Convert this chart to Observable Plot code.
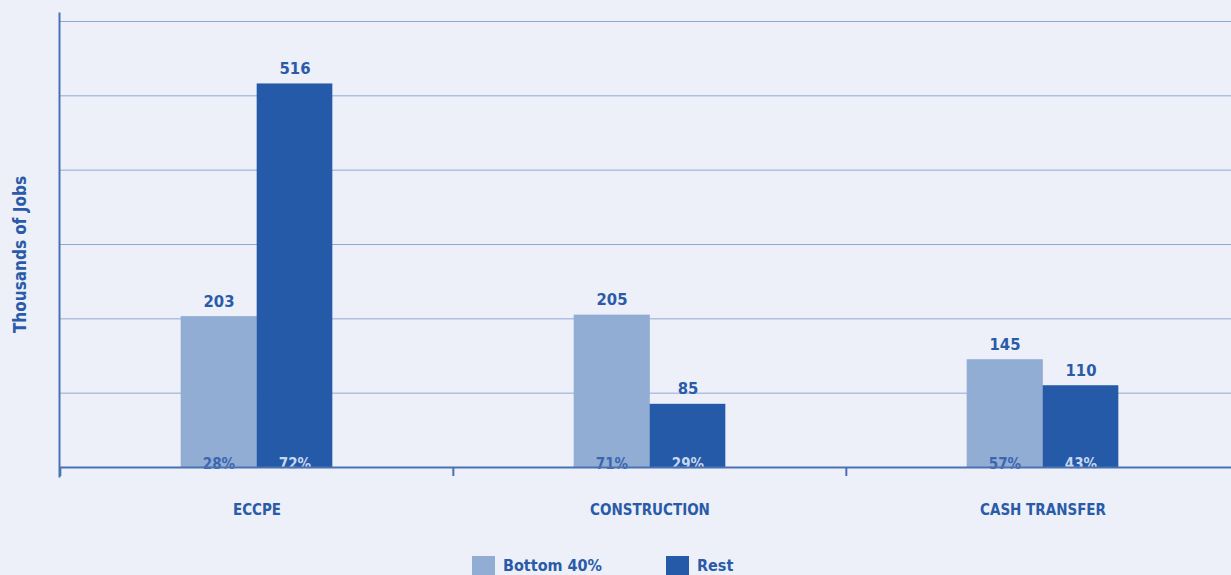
<!DOCTYPE html>
<html>
<head>
<meta charset="utf-8">
<script src="https://cdn.jsdelivr.net/npm/d3@7"></script>
<script src="https://cdn.jsdelivr.net/npm/@observablehq/plot@0.6"></script>
<style>
  html, body { margin: 0; padding: 0; background: #EDF0F8; overflow: hidden; }
  body { font-family: "DejaVu Sans Condensed", "DejaVu Sans", sans-serif; }
  #chart svg { max-width: none !important; height: 540px !important; width: 1239px !important; display: block; }
  #legend { display: flex; align-items: flex-start; padding-left: 472px; margin-top: 16px; color: #2A5BA8; font-weight: bold; font-size: 16px; }
  .item { display: flex; align-items: flex-start; margin-right: 64px; }
  .sw { width: 23px; height: 22px; margin-right: 8px; }
  .lbl { line-height: 20px; margin-top: 0px; }
</style>
</head>
<body>
<div id="chart"></div>
<div id="legend"></div>
<script>
const categories = ["ECCPE", "CONSTRUCTION", "CASH TRANSFER"];
const groups = ["Bottom 40%", "Rest"];
const bottom40 = [203, 205, 145];
const rest = [516, 85, 110];
const bottomShare = ["28%", "71%", "57%"];
const restShare = ["72%", "29%", "43%"];
const yTicks = [0, 100, 200, 300, 400, 500, 600];
const yTitle = "Thousands of Jobs";

const colors = { "Bottom 40%": "#92ADD4", "Rest": "#245AA8" };
const textDark = "#2A5BA8";

const data = [];
categories.forEach((c, i) => {
  data.push({ category: c, group: groups[0], value: bottom40[i], share: bottomShare[i] });
  data.push({ category: c, group: groups[1], value: rest[i], share: restShare[i] });
});
const dBottom = data.filter(d => d.group === groups[0]);
const dRest = data.filter(d => d.group === groups[1]);

const W = 1239, ML = 59, MR = 0;
const bw = (W - ML - MR) / categories.length;
const barW = 76;
const font = "'DejaVu Sans Condensed', 'DejaVu Sans', sans-serif";

const chart = Plot.plot({
  width: W,
  height: 540,
  marginLeft: ML,
  marginRight: MR,
  marginTop: 21,
  marginBottom: 73,
  style: { background: "#EDF0F8", fontFamily: font },
  x: { domain: categories, padding: 0, axis: null },
  y: { domain: [0, 600], axis: null },
  marks: [
    Plot.gridY(yTicks, { stroke: "#8FA9D6", strokeOpacity: 1, strokeWidth: 1 }),
    Plot.barY(dBottom, { x: "category", y: "value", fill: colors["Bottom 40%"], insetLeft: bw / 2 - barW, insetRight: bw / 2 - 0.5 }),
    Plot.barY(dRest, { x: "category", y: "value", fill: colors["Rest"], insetLeft: bw / 2, insetRight: bw / 2 - barW }),
    Plot.text(dBottom, { x: "category", y: "value", text: d => String(d.value), dx: -barW / 2, dy: -10, lineAnchor: "bottom", fill: textDark, fontWeight: "bold", fontSize: 16.5 }),
    Plot.text(dRest, { x: "category", y: "value", text: d => String(d.value), dx: barW / 2, dy: -10, lineAnchor: "bottom", fill: textDark, fontWeight: "bold", fontSize: 16.5 }),
    Plot.text(dBottom, { x: "category", y: 0, text: "share", dx: -barW / 2, dy: 1, lineAnchor: "bottom", fill: "#3A66B0", fontWeight: "bold", fontSize: 15 }),
    Plot.text(dRest, { x: "category", y: 0, text: "share", dx: barW / 2, dy: 1, lineAnchor: "bottom", fill: "#C9D7EE", fontWeight: "bold", fontSize: 15 }),
    Plot.ruleY([0], { stroke: "#4A72B2", strokeWidth: 2 }),
    Plot.frame({ anchor: "left", stroke: "#4A72B2", strokeWidth: 2, insetTop: -8, insetBottom: -9 }),
    Plot.axisX({ tickSize: 9, dx: -bw / 2, tickFormat: () => "", stroke: "#4A72B2", strokeWidth: 2, label: null }),
    Plot.axisX({ tickSize: 0, tickPadding: 37, fill: textDark, fontWeight: "bold", fontSize: 15, label: null, lineAnchor: "top" }),
    Plot.text([yTitle], { frameAnchor: "left", textAnchor: "middle", rotate: -90, dx: -39, dy: 10, fill: textDark, fontWeight: "bold", fontSize: 17 })
  ]
});
document.getElementById("chart").appendChild(chart);

const legend = document.getElementById("legend");
groups.forEach(g => {
  const it = document.createElement("div");
  it.className = "item";
  const sw = document.createElement("div");
  sw.className = "sw";
  sw.style.background = colors[g];
  const lb = document.createElement("div");
  lb.className = "lbl";
  lb.textContent = g;
  it.appendChild(sw); it.appendChild(lb);
  legend.appendChild(it);
});
</script>
</body>
</html>
